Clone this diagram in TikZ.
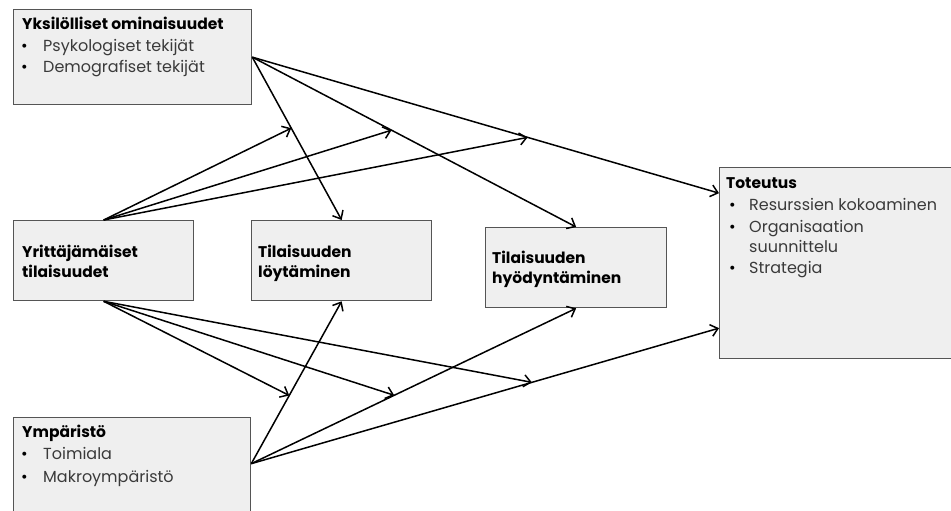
\documentclass[tikz,border=0pt]{standalone}
\usepackage{fontspec}
\setmainfont{Poppins}
\usetikzlibrary{arrows.meta,calc}
\definecolor{boxfill}{HTML}{EFEFEF}
\definecolor{boxline}{HTML}{555555}
\definecolor{itemtext}{HTML}{3A3A3A}

\begin{document}
\begin{tikzpicture}[x=1pt,y=-1pt,
  panel/.style={draw=boxline, fill=boxfill, line width=1.3pt, anchor=north west,
    inner sep=0pt, minimum width=#1},
  flow/.style={line width=1.5pt, -{Straight Barb[length=7pt,width=12pt]}},
  head/.style={font=\bfseries\fontsize{15.5}{18}\selectfont, anchor=base west, inner sep=0pt},
  item/.style={font=\fontsize{16}{19}\selectfont, text=itemtext, anchor=base west, inner sep=0pt},
  dot/.style={font=\fontsize{16}{19}\selectfont, text=black, anchor=base west, inner sep=0pt},
]
\useasboundingbox (0,0) rectangle (951,511);

% boxes
\node[panel=238pt, minimum height=95pt] (ind) at (13,9) {};
\node[panel=180pt, minimum height=80pt] (opp) at (13,220) {};
\node[panel=180pt, minimum height=80pt] (disc) at (251,220) {};
\node[panel=181pt, minimum height=80pt] (expl) at (485,227) {};
\node[panel=240pt, minimum height=191pt] (exec) at (719,167) {};
\node[panel=237pt, minimum height=100pt] (env) at (13,417) {};

% box texts
\node[head] (indT) at (22,30) {Yksilölliset ominaisuudet};
\node[dot] (indB1) at (21,52) {•};
\node[item] (indI1) at (43,52) {Psykologiset tekijät};
\node[dot] (indB2) at (21,73) {•};
\node[item] (indI2) at (43,73) {Demografiset tekijät};

\node[head] (oppT1) at (22,257) {Yrittäjämäiset};
\node[head] (oppT2) at (22,277) {tilaisuudet};

\node[head] (discT1) at (258,257) {Tilaisuuden};
\node[head] (discT2) at (258,277) {löytäminen};

\node[head] (explT1) at (492,263) {Tilaisuuden};
\node[head] (explT2) at (492,283) {hyödyntäminen};

\node[head] (execT) at (726,188) {Toteutus};
\node[dot] (execB1) at (729,210) {•};
\node[item] (execI1) at (749,210) {Resurssien kokoaminen};
\node[dot] (execB2) at (729,232) {•};
\node[item] (execI2) at (749,232) {Organisaation};
\node[item] (execI3) at (749,252) {suunnittelu};
\node[dot] (execB3) at (729,273) {•};
\node[item] (execI4) at (749,273) {Strategia};

\node[head] (envT) at (22,437) {Ympäristö};
\node[dot] (envB1) at (21,459) {•};
\node[item] (envI1) at (43,459) {Toimiala};
\node[dot] (envB2) at (21,482) {•};
\node[item] (envI2) at (43,482) {Makroympäristö};

% connector end points on the box sides
\coordinate (indOut) at (ind.east);
\coordinate (envOut) at ([yshift=4pt]env.east);
\coordinate (execTop) at ([yshift=70pt]exec.west);
\coordinate (execLow) at ([yshift=-65pt]exec.west);

% arrows from the individual and environment boxes
\draw[flow] (indOut) -- (disc.north);
\draw[flow] (indOut) -- (expl.north);
\draw[flow] (indOut) -- (execTop);
\draw[flow] (envOut) -- (disc.south);
\draw[flow] (envOut) -- (expl.south);
\draw[flow] (envOut) -- (execLow);

% moderating arrows from the opportunity box onto those paths
\coordinate (m1) at ($(indOut)!0.436!(disc.north)$);
\coordinate (m2) at ($(indOut)!0.43!(expl.north)$);
\coordinate (m3) at ($(indOut)!0.59!(execTop)$);
\coordinate (n1) at ($(envOut)!0.42!(disc.south)$);
\coordinate (n2) at ($(envOut)!0.44!(expl.south)$);
\coordinate (n3) at ($(envOut)!0.6!(execLow)$);

\draw[flow] (opp.north) -- (m1);
\draw[flow] (opp.north) -- (m2);
\draw[flow] (opp.north) -- (m3);
\draw[flow] (opp.south) -- (n1);
\draw[flow] (opp.south) -- (n2);
\draw[flow] (opp.south) -- (n3);
\end{tikzpicture}
\end{document}
